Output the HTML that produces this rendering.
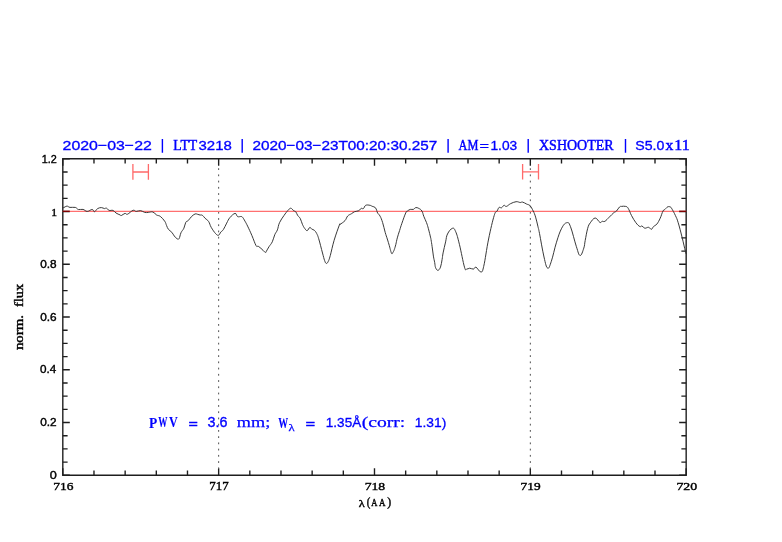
<!DOCTYPE html>
<html><head><meta charset="utf-8"><style>
html,body{margin:0;padding:0;background:#fff;}
svg{display:block;}
</style></head><body>
<svg width="782" height="542" viewBox="0 0 782 542">
<rect width="782" height="542" fill="#fff"/>
<g fill="none" stroke="#1e1e1e">
<path d="M62.81,158.8 H686.17 V475.3 H62.81 Z" stroke-width="1.38"/>
<path d="M62.81,475.3 V468.30 M62.81,158.8 V165.80 M93.98,475.3 V470.50 M93.98,158.8 V163.60 M125.15,475.3 V470.50 M125.15,158.8 V163.60 M156.31,475.3 V470.50 M156.31,158.8 V163.60 M187.48,475.3 V470.50 M187.48,158.8 V163.60 M218.65,475.3 V468.30 M218.65,158.8 V165.80 M249.82,475.3 V470.50 M249.82,158.8 V163.60 M280.99,475.3 V470.50 M280.99,158.8 V163.60 M312.15,475.3 V470.50 M312.15,158.8 V163.60 M343.32,475.3 V470.50 M343.32,158.8 V163.60 M374.49,475.3 V468.30 M374.49,158.8 V165.80 M405.66,475.3 V470.50 M405.66,158.8 V163.60 M436.83,475.3 V470.50 M436.83,158.8 V163.60 M467.99,475.3 V470.50 M467.99,158.8 V163.60 M499.16,475.3 V470.50 M499.16,158.8 V163.60 M530.33,475.3 V468.30 M530.33,158.8 V165.80 M561.50,475.3 V470.50 M561.50,158.8 V163.60 M592.67,475.3 V470.50 M592.67,158.8 V163.60 M623.83,475.3 V470.50 M623.83,158.8 V163.60 M655.00,475.3 V470.50 M655.00,158.8 V163.60 M686.17,475.3 V468.30 M686.17,158.8 V165.80 M62.81,475.30 H69.81 M686.17,475.30 H679.17 M62.81,462.11 H67.61 M686.17,462.11 H681.37 M62.81,448.93 H67.61 M686.17,448.93 H681.37 M62.81,435.74 H67.61 M686.17,435.74 H681.37 M62.81,422.55 H69.81 M686.17,422.55 H679.17 M62.81,409.36 H67.61 M686.17,409.36 H681.37 M62.81,396.18 H67.61 M686.17,396.18 H681.37 M62.81,382.99 H67.61 M686.17,382.99 H681.37 M62.81,369.80 H69.81 M686.17,369.80 H679.17 M62.81,356.61 H67.61 M686.17,356.61 H681.37 M62.81,343.43 H67.61 M686.17,343.43 H681.37 M62.81,330.24 H67.61 M686.17,330.24 H681.37 M62.81,317.05 H69.81 M686.17,317.05 H679.17 M62.81,303.86 H67.61 M686.17,303.86 H681.37 M62.81,290.67 H67.61 M686.17,290.67 H681.37 M62.81,277.49 H67.61 M686.17,277.49 H681.37 M62.81,264.30 H69.81 M686.17,264.30 H679.17 M62.81,251.11 H67.61 M686.17,251.11 H681.37 M62.81,237.92 H67.61 M686.17,237.92 H681.37 M62.81,224.74 H67.61 M686.17,224.74 H681.37 M62.81,211.55 H69.81 M686.17,211.55 H679.17 M62.81,198.36 H67.61 M686.17,198.36 H681.37 M62.81,185.17 H67.61 M686.17,185.17 H681.37 M62.81,171.99 H67.61 M686.17,171.99 H681.37 M62.81,158.80 H69.81 M686.17,158.80 H679.17" stroke-width="1.38"/>
<path d="M218.65,165.8 V468.3" stroke="#505050" stroke-width="1.0" stroke-dasharray="1.8 4.433" stroke-dashoffset="-2.4"/>
<path d="M530.33,165.8 V468.3" stroke="#505050" stroke-width="1.0" stroke-dasharray="1.8 4.433" stroke-dashoffset="-2.4"/>
</g>
<path d="M62.81,211.4 H686.17" stroke="#ff7070" stroke-width="1.2" fill="none"/>
<path d="M62.81,211.4 H69.81 M686.17,211.4 H679.17" stroke="#800000" stroke-width="1.2" fill="none"/>
<g stroke="#ff6a6a" stroke-width="1.3" fill="none">
<path d="M132.9,164.1 V179.8 M148.4,164.1 V179.8 M132.9,172 H148.4"/>
<path d="M522.6,164.1 V179.4 M538.5,164.1 V179.4 M522.6,171.9 H538.5"/>
</g>
<path d="M62.60,207.60 C62.84,207.60 62.94,207.90 63.80,207.60 C64.66,207.30 65.66,206.14 66.90,206.10 C68.14,206.06 68.32,207.14 70.00,207.40 C71.68,207.66 73.62,206.98 75.30,207.40 C76.98,207.82 76.86,209.10 78.40,209.50 C79.94,209.90 81.24,209.02 83.00,209.40 C84.76,209.78 85.36,211.38 87.20,211.40 C89.04,211.42 90.74,209.44 92.20,209.50 C93.66,209.56 93.42,211.88 94.50,211.70 C95.58,211.52 96.22,209.42 97.60,208.60 C98.98,207.78 100.02,207.60 101.40,207.60 C102.78,207.60 103.50,208.50 104.50,208.60 C105.50,208.70 105.48,207.74 106.40,208.10 C107.32,208.46 107.78,209.94 109.10,210.40 C110.42,210.86 111.62,209.88 113.00,210.40 C114.38,210.92 114.60,212.10 116.00,213.00 C117.40,213.90 118.92,214.40 120.00,214.90 C121.08,215.40 120.40,215.80 121.40,215.50 C122.40,215.20 123.78,213.66 125.00,213.40 C126.22,213.14 125.88,214.82 127.50,214.20 C129.12,213.58 131.36,210.86 133.10,210.30 C134.84,209.74 134.70,211.34 136.20,211.40 C137.70,211.46 138.90,210.40 140.60,210.60 C142.30,210.80 143.16,212.04 144.70,212.40 C146.24,212.76 146.66,212.48 148.30,212.40 C149.94,212.32 151.24,211.48 152.90,212.00 C154.56,212.52 155.12,214.12 156.60,215.00 C158.08,215.88 158.68,215.16 160.30,216.40 C161.92,217.64 163.44,219.36 164.70,221.20 C165.96,223.04 165.86,223.98 166.60,225.60 C167.34,227.22 167.36,227.96 168.40,229.30 C169.44,230.64 170.62,230.96 171.80,232.30 C172.98,233.64 173.28,234.74 174.30,236.00 C175.32,237.26 175.94,238.08 176.90,238.60 C177.86,239.12 178.28,239.78 179.10,238.60 C179.92,237.42 180.04,234.78 181.00,232.70 C181.96,230.62 182.94,230.28 183.90,228.20 C184.86,226.12 184.92,223.84 185.80,222.30 C186.68,220.76 187.20,221.60 188.30,220.50 C189.40,219.40 189.96,218.10 191.30,216.80 C192.64,215.50 193.68,214.48 195.00,214.00 C196.32,213.52 196.90,214.20 197.90,214.40 C198.90,214.60 199.10,214.82 200.00,215.00 C200.90,215.18 201.40,214.66 202.40,215.30 C203.40,215.94 203.76,216.96 205.00,218.20 C206.24,219.44 207.36,219.68 208.60,221.50 C209.84,223.32 209.78,224.86 211.20,227.30 C212.62,229.74 214.22,232.12 215.70,233.70 C217.18,235.28 217.58,235.52 218.60,235.20 C219.62,234.88 219.84,233.24 220.80,232.10 C221.76,230.96 222.22,231.30 223.40,229.50 C224.58,227.70 225.40,225.48 226.70,223.10 C228.00,220.72 228.22,219.54 229.90,217.60 C231.58,215.66 233.56,213.60 235.10,213.40 C236.64,213.20 236.38,215.98 237.60,216.60 C238.82,217.22 240.16,216.30 241.20,216.50 C242.24,216.70 242.04,216.66 242.80,217.60 C243.56,218.54 244.04,219.50 245.00,221.20 C245.96,222.90 246.22,223.24 247.60,226.10 C248.98,228.96 250.20,231.58 251.90,235.50 C253.60,239.42 254.82,243.54 256.10,245.70 C257.38,247.86 257.12,245.58 258.30,246.30 C259.48,247.02 260.60,248.08 262.00,249.30 C263.40,250.52 264.40,252.06 265.30,252.40 C266.20,252.74 265.76,252.14 266.50,251.00 C267.24,249.86 267.84,248.54 269.00,246.70 C270.16,244.86 271.14,244.22 272.30,241.80 C273.46,239.38 273.78,236.98 274.80,234.60 C275.82,232.22 276.46,232.28 277.40,229.90 C278.34,227.52 278.18,225.58 279.50,222.70 C280.82,219.82 282.36,217.90 284.00,215.50 C285.64,213.10 286.44,212.14 287.70,210.70 C288.96,209.26 289.42,208.64 290.30,208.30 C291.18,207.96 291.44,208.52 292.10,209.00 C292.76,209.48 292.86,210.14 293.60,210.70 C294.34,211.26 294.98,210.84 295.80,211.80 C296.62,212.76 296.82,214.18 297.70,215.50 C298.58,216.82 299.26,216.64 300.20,218.40 C301.14,220.16 301.50,222.30 302.40,224.30 C303.30,226.30 303.74,227.14 304.70,228.40 C305.66,229.66 306.18,230.80 307.20,230.60 C308.22,230.40 308.90,227.70 309.80,227.40 C310.70,227.10 310.82,228.54 311.70,229.10 C312.58,229.66 313.24,229.38 314.20,230.20 C315.16,231.02 315.60,231.50 316.50,233.20 C317.40,234.90 317.50,234.74 318.70,238.70 C319.90,242.66 321.32,248.64 322.50,253.00 C323.68,257.36 323.84,258.42 324.60,260.50 C325.36,262.58 325.58,263.20 326.30,263.40 C327.02,263.60 327.40,263.08 328.20,261.50 C329.00,259.92 329.12,259.72 330.30,255.50 C331.48,251.28 332.30,246.46 334.10,240.40 C335.90,234.34 338.12,228.38 339.30,225.20 C340.48,222.02 338.86,225.42 340.00,224.50 C341.14,223.58 343.46,222.30 345.00,220.60 C346.54,218.90 346.40,217.38 347.70,216.00 C349.00,214.62 350.12,214.56 351.50,213.70 C352.88,212.84 353.14,212.30 354.60,211.70 C356.06,211.10 357.50,211.36 358.80,210.70 C360.10,210.04 360.18,208.82 361.10,208.40 C362.02,207.98 362.48,209.22 363.40,208.60 C364.32,207.98 364.40,205.96 365.70,205.30 C367.00,204.64 368.60,205.10 369.90,205.30 C371.20,205.50 371.12,205.84 372.20,206.30 C373.28,206.76 374.38,206.72 375.30,207.60 C376.22,208.48 376.34,209.62 376.80,210.70 C377.26,211.78 376.94,211.90 377.60,213.00 C378.26,214.10 379.10,214.30 380.10,216.20 C381.10,218.10 381.58,219.26 382.60,222.50 C383.62,225.74 384.26,229.10 385.20,232.40 C386.14,235.70 386.48,236.36 387.30,239.00 C388.12,241.64 388.64,243.30 389.30,245.60 C389.96,247.90 390.10,248.88 390.60,250.50 C391.10,252.12 391.32,253.34 391.80,253.70 C392.28,254.06 392.50,253.12 393.00,252.30 C393.50,251.48 393.74,251.16 394.30,249.60 C394.86,248.04 395.20,246.84 395.80,244.50 C396.40,242.16 396.54,240.70 397.30,237.90 C398.06,235.10 398.68,233.42 399.60,230.50 C400.52,227.58 400.68,226.80 401.90,223.30 C403.12,219.80 404.58,215.46 405.70,213.00 C406.82,210.54 406.58,211.72 407.50,211.00 C408.42,210.28 409.12,209.72 410.30,209.40 C411.48,209.08 412.32,209.76 413.40,209.40 C414.48,209.04 414.62,207.80 415.70,207.60 C416.78,207.40 417.56,207.72 418.80,208.40 C420.04,209.08 420.90,209.40 421.90,211.00 C422.90,212.60 422.88,214.08 423.80,216.40 C424.72,218.72 425.58,220.14 426.50,222.60 C427.42,225.06 427.56,225.64 428.40,228.70 C429.24,231.76 430.16,235.64 430.70,237.90 C431.24,240.16 430.82,238.28 431.10,240.00 C431.38,241.72 431.64,243.28 432.10,246.50 C432.56,249.72 432.88,252.88 433.40,256.10 C433.92,259.32 434.26,260.28 434.70,262.60 C435.14,264.92 434.96,266.16 435.60,267.70 C436.24,269.24 436.92,270.42 437.90,270.30 C438.88,270.18 439.66,269.28 440.50,267.10 C441.34,264.92 441.58,262.24 442.10,259.40 C442.62,256.56 442.40,256.40 443.10,252.90 C443.80,249.40 444.72,245.68 445.60,241.90 C446.48,238.12 446.14,236.72 447.50,234.00 C448.86,231.28 450.76,228.76 452.40,228.30 C454.04,227.84 454.30,228.50 455.70,231.70 C457.10,234.90 457.64,237.20 459.40,244.30 C461.16,251.40 463.04,262.24 464.50,267.20 C465.96,272.16 465.66,268.90 466.70,269.10 C467.74,269.30 468.36,268.20 469.70,268.20 C471.04,268.20 472.14,269.30 473.40,269.10 C474.66,268.90 474.52,266.64 476.00,267.20 C477.48,267.76 479.26,272.06 480.80,271.90 C482.34,271.74 482.14,272.98 483.70,266.40 C485.26,259.82 486.50,249.18 488.60,239.00 C490.70,228.82 492.50,221.10 494.20,215.50 C495.90,209.90 496.12,212.62 497.10,211.00 C498.08,209.38 498.22,208.04 499.10,207.40 C499.98,206.76 500.52,208.22 501.50,207.80 C502.48,207.38 503.02,205.58 504.00,205.30 C504.98,205.02 505.10,206.72 506.40,206.40 C507.70,206.08 508.56,204.64 510.50,203.70 C512.44,202.76 514.16,201.94 516.10,201.70 C518.04,201.46 518.90,202.42 520.20,202.50 C521.50,202.58 521.30,201.78 522.60,202.10 C523.90,202.42 525.22,203.38 526.70,204.10 C528.18,204.82 528.70,204.32 530.00,205.70 C531.30,207.08 532.08,208.72 533.20,211.00 C534.32,213.28 534.64,213.94 535.60,217.10 C536.56,220.26 537.22,223.54 538.00,226.80 C538.78,230.06 538.30,227.36 539.50,233.40 C540.70,239.44 542.38,250.06 544.00,257.00 C545.62,263.94 546.14,267.22 547.60,268.10 C549.06,268.98 549.52,266.58 551.30,261.40 C553.08,256.22 554.42,248.84 556.50,242.20 C558.58,235.56 559.64,232.10 561.70,228.20 C563.76,224.30 565.04,223.00 566.80,222.70 C568.56,222.40 568.58,221.90 570.50,226.70 C572.42,231.50 574.48,240.94 576.40,246.70 C578.32,252.46 578.62,255.22 580.10,255.50 C581.58,255.78 582.78,251.10 583.80,248.10 C584.82,245.10 584.42,244.46 585.20,240.50 C585.98,236.54 586.68,231.84 587.70,228.30 C588.72,224.76 588.80,224.86 590.30,222.80 C591.80,220.74 593.28,218.08 595.20,218.00 C597.12,217.92 598.50,221.74 599.90,222.40 C601.30,223.06 601.20,221.52 602.20,221.30 C603.20,221.08 603.48,222.14 604.90,221.30 C606.32,220.46 607.52,218.82 609.30,217.10 C611.08,215.38 612.36,213.92 613.80,212.70 C615.24,211.48 615.36,212.14 616.50,211.00 C617.64,209.86 618.50,207.92 619.50,207.00 C620.50,206.08 620.26,206.52 621.50,206.40 C622.74,206.28 624.36,206.02 625.70,206.40 C627.04,206.78 627.04,206.48 628.20,208.30 C629.36,210.12 629.96,212.62 631.50,215.50 C633.04,218.38 634.24,220.50 635.90,222.70 C637.56,224.90 638.58,225.84 639.80,226.50 C641.02,227.16 641.00,225.66 642.00,226.00 C643.00,226.34 643.48,227.94 644.80,228.20 C646.12,228.46 647.28,227.08 648.60,227.30 C649.92,227.52 650.40,229.46 651.40,229.30 C652.40,229.14 652.50,227.56 653.60,226.50 C654.70,225.44 655.58,225.66 656.90,224.00 C658.22,222.34 658.98,220.80 660.20,218.20 C661.42,215.60 662.04,212.76 663.00,211.00 C663.96,209.24 664.20,210.14 665.00,209.40 C665.80,208.66 666.30,207.86 667.00,207.30 C667.70,206.74 667.90,206.68 668.50,206.60 C669.10,206.52 669.40,206.58 670.00,206.90 C670.60,207.22 670.42,206.48 671.50,208.20 C672.58,209.92 674.06,212.60 675.40,215.50 C676.74,218.40 676.88,218.40 678.20,222.70 C679.52,227.00 680.56,231.26 682.00,237.00 C683.44,242.74 684.54,248.00 685.40,251.40 C686.26,254.80 686.12,253.48 686.30,254.00" fill="none" stroke="#2e2e2e" stroke-width="0.95" stroke-linejoin="round"/>
<path d="M162.4,139 V152.8 M242.2,139 V152.8 M448.1,139 V152.8 M528.2,139 V152.8 M625.5,139 V152.8" stroke="#0000ff" stroke-width="1.4" fill="none"/>
<g style="will-change:transform">
<text id="t1" x="62.60" y="150.10" font-family="Liberation Sans" font-weight="normal" font-size="13.64" fill="#0000ff" stroke="#0000ff" stroke-width="0.33" textLength="89.21" lengthAdjust="spacingAndGlyphs">2020−03−22</text>
<text id="t2a" x="173.30" y="150.35" font-family="Liberation Serif" font-weight="normal" font-size="15.02" fill="#0000ff" stroke="#0000ff" stroke-width="0.45" textLength="24.00" lengthAdjust="spacingAndGlyphs">LTT</text>
<text id="t2b" x="198.55" y="150.10" font-family="Liberation Sans" font-weight="normal" font-size="13.64" fill="#0000ff" stroke="#0000ff" stroke-width="0.33" textLength="33.26" lengthAdjust="spacingAndGlyphs">3218</text>
<text id="t3" x="252.50" y="150.10" font-family="Liberation Sans" font-weight="normal" font-size="13.64" fill="#0000ff" stroke="#0000ff" stroke-width="0.33" textLength="184.71" lengthAdjust="spacingAndGlyphs">2020−03−23T00:20:30.257</text>
<text id="t4a" x="458.55" y="150.35" font-family="Liberation Serif" font-weight="normal" font-size="14.52" fill="#0000ff" stroke="#0000ff" stroke-width="0.45" textLength="19.75" lengthAdjust="spacingAndGlyphs">AM</text>
<text id="t4b" x="479.40" y="149.75" font-family="Liberation Sans" font-weight="normal" font-size="11.29" fill="#0000ff" stroke="#0000ff" stroke-width="0.33" textLength="9.49" lengthAdjust="spacingAndGlyphs">=</text>
<text id="t4c" x="490.45" y="150.10" font-family="Liberation Sans" font-weight="normal" font-size="13.51" fill="#0000ff" stroke="#0000ff" stroke-width="0.33" textLength="26.75" lengthAdjust="spacingAndGlyphs">1.03</text>
<text id="t5" x="539.00" y="150.10" font-family="Liberation Serif" font-weight="normal" font-size="14.31" fill="#0000ff" stroke="#0000ff" stroke-width="0.45" textLength="74.65" lengthAdjust="spacingAndGlyphs">XSHOOTER</text>
<text id="t6a" x="635.30" y="150.10" font-family="Liberation Sans" font-weight="normal" font-size="13.64" fill="#0000ff" stroke="#0000ff" stroke-width="0.33" textLength="29.07" lengthAdjust="spacingAndGlyphs">S5.0</text>
<text id="t6b" x="665.55" y="150.25" font-family="Liberation Serif" font-weight="normal" font-size="14.51" fill="#0000ff" stroke="#0000ff" stroke-width="0.45" textLength="7.83" lengthAdjust="spacingAndGlyphs">x</text>
<text id="t6c" x="674.30" y="150.25" font-family="Liberation Serif" font-weight="normal" font-size="14.39" fill="#0000ff" stroke="#0000ff" stroke-width="0.45" textLength="15.38" lengthAdjust="spacingAndGlyphs">11</text>
<text id="p1a" x="149.00" y="427.55" font-family="Liberation Serif" font-weight="bold" font-size="15.46" fill="#0000ff" stroke="#0000ff" stroke-width="0.1" textLength="8.26" lengthAdjust="spacingAndGlyphs">P</text>
<text id="p1b" x="158.20" y="427.30" font-family="Liberation Serif" font-weight="bold" font-size="15.12" fill="#0000ff" stroke="#0000ff" stroke-width="0.1" textLength="9.20" lengthAdjust="spacingAndGlyphs">W</text>
<text id="p1c" x="169.00" y="427.30" font-family="Liberation Serif" font-weight="bold" font-size="15.12" fill="#0000ff" stroke="#0000ff" stroke-width="0.1" textLength="8.80" lengthAdjust="spacingAndGlyphs">V</text>
<text id="p2" x="188.40" y="427.70" font-family="Liberation Sans" font-weight="normal" font-size="13.32" fill="#0000ff" stroke="#0000ff" stroke-width="0.33" textLength="9.39" lengthAdjust="spacingAndGlyphs">=</text>
<text id="p3" x="207.55" y="427.30" font-family="Liberation Sans" font-weight="normal" font-size="13.92" fill="#0000ff" stroke="#0000ff" stroke-width="0.33" textLength="19.92" lengthAdjust="spacingAndGlyphs">3.6</text>
<text id="p4" x="236.85" y="426.60" font-family="Liberation Serif" font-weight="normal" font-size="14.33" fill="#0000ff" stroke="#0000ff" stroke-width="0.25" textLength="33.37" lengthAdjust="spacingAndGlyphs">mm;</text>
<text id="p5" x="278.30" y="427.55" font-family="Liberation Serif" font-weight="bold" font-size="14.90" fill="#0000ff" stroke="#0000ff" stroke-width="0.1" textLength="9.90" lengthAdjust="spacingAndGlyphs">W</text>
<text id="p6" x="288.60" y="431.35" font-family="Liberation Serif" font-weight="normal" font-size="10.08" fill="#0000ff" stroke="#0000ff" stroke-width="0.25" textLength="6.16" lengthAdjust="spacingAndGlyphs">λ</text>
<text id="p7" x="305.40" y="427.60" font-family="Liberation Sans" font-weight="normal" font-size="13.32" fill="#0000ff" stroke="#0000ff" stroke-width="0.33" textLength="9.70" lengthAdjust="spacingAndGlyphs">=</text>
<text id="p8" x="325.85" y="427.10" font-family="Liberation Sans" font-weight="normal" font-size="13.68" fill="#0000ff" stroke="#0000ff" stroke-width="0.33" textLength="35.32" lengthAdjust="spacingAndGlyphs">1.35Å</text>
<text id="p9" x="361.80" y="426.75" font-family="Liberation Serif" font-weight="normal" font-size="13.75" fill="#0000ff" stroke="#0000ff" stroke-width="0.25" textLength="43.54" lengthAdjust="spacingAndGlyphs">(corr:</text>
<text id="p10" x="414.85" y="427.00" font-family="Liberation Sans" font-weight="normal" font-size="13.61" fill="#0000ff" stroke="#0000ff" stroke-width="0.33" textLength="31.42" lengthAdjust="spacingAndGlyphs">1.31)</text>
<text id="y12" x="41.80" y="163.15" font-family="Liberation Sans" font-weight="normal" font-size="11.06" fill="#000000" stroke="#000000" stroke-width="0.4" textLength="14.99" lengthAdjust="spacingAndGlyphs">1.2</text>
<text id="y10" x="51.15" y="215.75" font-family="Liberation Serif" font-weight="normal" font-size="11.11" fill="#000000" stroke="#000000" stroke-width="0.4" textLength="5.84" lengthAdjust="spacingAndGlyphs">1</text>
<text id="y08" x="40.15" y="268.00" font-family="Liberation Sans" font-weight="normal" font-size="11.15" fill="#000000" stroke="#000000" stroke-width="0.4" textLength="16.42" lengthAdjust="spacingAndGlyphs">0.8</text>
<text id="y06" x="40.15" y="320.80" font-family="Liberation Sans" font-weight="normal" font-size="11.02" fill="#000000" stroke="#000000" stroke-width="0.4" textLength="16.42" lengthAdjust="spacingAndGlyphs">0.6</text>
<text id="y04" x="39.95" y="373.30" font-family="Liberation Sans" font-weight="normal" font-size="11.15" fill="#000000" stroke="#000000" stroke-width="0.4" textLength="16.25" lengthAdjust="spacingAndGlyphs">0.4</text>
<text id="y02" x="40.15" y="426.20" font-family="Liberation Sans" font-weight="normal" font-size="11.02" fill="#000000" stroke="#000000" stroke-width="0.4" textLength="16.42" lengthAdjust="spacingAndGlyphs">0.2</text>
<text id="y00" x="49.75" y="479.10" font-family="Liberation Sans" font-weight="normal" font-size="11.15" fill="#000000" stroke="#000000" stroke-width="0.4" textLength="7.04" lengthAdjust="spacingAndGlyphs">0</text>
<text id="x716" x="53.30" y="489.90" font-family="Liberation Serif" font-weight="normal" font-size="11.05" fill="#000000" stroke="#000000" stroke-width="0.4" textLength="20.12" lengthAdjust="spacingAndGlyphs">716</text>
<text id="x717" x="209.20" y="490.15" font-family="Liberation Serif" font-weight="normal" font-size="11.75" fill="#000000" stroke="#000000" stroke-width="0.4" textLength="19.42" lengthAdjust="spacingAndGlyphs">717</text>
<text id="x718" x="364.70" y="489.90" font-family="Liberation Serif" font-weight="normal" font-size="11.05" fill="#000000" stroke="#000000" stroke-width="0.4" textLength="20.48" lengthAdjust="spacingAndGlyphs">718</text>
<text id="x719" x="520.60" y="489.90" font-family="Liberation Serif" font-weight="normal" font-size="11.05" fill="#000000" stroke="#000000" stroke-width="0.4" textLength="19.98" lengthAdjust="spacingAndGlyphs">719</text>
<text id="x720" x="676.40" y="489.90" font-family="Liberation Serif" font-weight="normal" font-size="11.05" fill="#000000" stroke="#000000" stroke-width="0.4" textLength="20.78" lengthAdjust="spacingAndGlyphs">720</text>
<text id="xl1" x="358.80" y="506.55" font-family="Liberation Serif" font-weight="normal" font-size="10.31" fill="#000000" stroke="#000000" stroke-width="0.4" textLength="5.97" lengthAdjust="spacingAndGlyphs">λ</text>
<text id="xl2" x="366.75" y="506.35" font-family="Liberation Serif" font-weight="normal" font-size="11.77" fill="#000000" stroke="#000000" stroke-width="0.4" textLength="3.58" lengthAdjust="spacingAndGlyphs">(</text>
<text id="xl3" x="371.15" y="506.35" font-family="Liberation Serif" font-weight="normal" font-size="10.42" fill="#000000" stroke="#000000" stroke-width="0.4" textLength="6.13" lengthAdjust="spacingAndGlyphs">A</text>
<text id="xl4" x="379.05" y="506.35" font-family="Liberation Serif" font-weight="normal" font-size="10.42" fill="#000000" stroke="#000000" stroke-width="0.4" textLength="6.43" lengthAdjust="spacingAndGlyphs">A</text>
<text id="xl5" x="387.20" y="506.35" font-family="Liberation Serif" font-weight="normal" font-size="11.77" fill="#000000" stroke="#000000" stroke-width="0.4" textLength="3.89" lengthAdjust="spacingAndGlyphs">)</text>
<text id="yl1" transform="translate(22.60,350.10) rotate(-90)" font-family="Liberation Serif" font-weight="normal" font-size="11.85" fill="#000000" stroke="#000000" stroke-width="0.4" textLength="35.16" lengthAdjust="spacingAndGlyphs">norm.</text>
<text id="yl2" transform="translate(22.60,307.10) rotate(-90)" font-family="Liberation Serif" font-weight="normal" font-size="11.88" fill="#000000" stroke="#000000" stroke-width="0.4" textLength="23.20" lengthAdjust="spacingAndGlyphs">flux</text>
</g>
</svg>
</body></html>
